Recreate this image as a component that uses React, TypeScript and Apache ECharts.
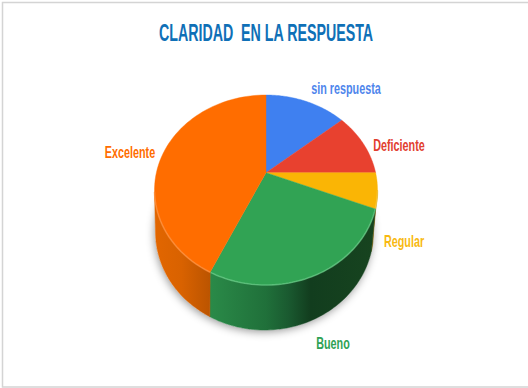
import React, { useEffect, useRef } from "react";
import * as echarts from "echarts";

const categories = ["sin respuesta", "Deficiente", "Regular", "Bueno", "Excelente"];
const shares = [14, 11, 6, 26, 43];
const faceColors = ["#3f80f0", "#e8412f", "#fab505", "#31a354", "#ff6d00"];
const labelColors = ["#4f86ec", "#e2402f", "#f8b912", "#2fa254", "#ff6d00"];
const titleText = "CLARIDAD  EN LA RESPUESTA";

// Shading of the cylinder wall per slice, left to right across the disc.
const wallStops: [number, string][][] = [
  [[0, "#2a5cab"], [1, "#2a5cab"]],
  [[0, "#a32f25"], [1, "#a32f25"]],
  [[0, "#8a6800"], [1, "#7a5c00"]],
  [[0, "#2b8a47"], [0.25, "#2a8a48"], [0.5, "#20703a"], [0.6, "#1a5a30"], [0.7, "#123d1e"], [1, "#17441f"]],
  [[0, "#e26600"], [0.12, "#d96200"], [0.25, "#bb5400"], [1, "#bb5400"]],
];
const rimColors = ["#6aa0f7", "#f0756a", "#fdd04f", "#6fd08d", "#ff9a4d"];

// Label centres, one per category.
const labelCentres = [
  [346, 88.5],
  [399, 145.5],
  [404, 242],
  [333, 343.5],
  [130, 152.5],
];

// Condensed lettering: a wide sans squeezed horizontally.
const FONT_FAMILY = '"Liberation Sans", Arial, sans-serif';
const LABEL_SQUEEZE = 0.675;
const TITLE_SQUEEZE = 0.593;

// Projected disc: the top face ellipse, the lower rim ellipse and the perspective shift of the hub.
const TOP = { cx: 266, cy: 190, rx: 111.5, ry: 95 };
const BASE = { cx: 264.5, cy: 232, rx: 109, ry: 98 };
const HUB_SHIFT = -0.182;

const total = shares.reduce((a, b) => a + b, 0);

// Maps a clockwise angle on the flat disc (0 = up) to the tilted top face.
function onFace(angle: number): [number, number] {
  const x = Math.sin(angle);
  const y = -Math.cos(angle);
  const k = HUB_SHIFT;
  const d = 1 + k * y;
  const px = (x * Math.sqrt(1 - k * k)) / d;
  const py = (y + k) / d;
  return [TOP.cx + TOP.rx * px, TOP.cy + TOP.ry * py];
}

// Same direction on the lower rim, matched through the ellipse parameter.
function onBase(p: [number, number]): [number, number] {
  const phi = Math.atan2((p[1] - TOP.cy) / TOP.ry, (p[0] - TOP.cx) / TOP.rx);
  return [BASE.cx + BASE.rx * Math.cos(phi), BASE.cy + BASE.ry * Math.sin(phi)];
}

function hub(): [number, number] {
  return [TOP.cx, TOP.cy + TOP.ry * HUB_SHIFT];
}

function renderSlice(params: any, api: any) {
  const i = params.dataIndex;
  const before = shares.slice(0, i).reduce((a, b) => a + b, 0);
  const start = (before / total) * Math.PI * 2;
  const end = start + (api.value(0) / total) * Math.PI * 2;
  const arc: [number, number][] = [];
  const steps = 64;
  for (let s = 0; s <= steps; s++) arc.push(onFace(start + ((end - start) * s) / steps));

  const front = arc.filter((p) => p[1] >= TOP.cy);
  const children: any[] = [];

  if (i === 0) {
    const ring: [number, number][] = [];
    for (let s = 0; s <= 90; s++) {
      const a = (s / 90) * Math.PI * 2;
      ring.push([BASE.cx + BASE.rx * Math.cos(a), BASE.cy + BASE.ry * Math.sin(a)]);
    }
    children.push({
      type: "polygon",
      shape: { points: ring },
      style: { fill: "#ffffff", shadowBlur: 9, shadowColor: "rgba(0,0,0,0.4)", shadowOffsetX: -1, shadowOffsetY: 2 },
    });
  }

  if (front.length > 1) {
    const bottom = front.map(onBase).reverse();
    const fill = new echarts.graphic.LinearGradient(
      TOP.cx - TOP.rx,
      0,
      TOP.cx + TOP.rx,
      0,
      wallStops[i].map(([offset, color]) => ({ offset, color })),
      true
    );
    children.push({
      type: "polygon",
      shape: { points: [...front, ...bottom] },
      style: { fill, stroke: fill, lineWidth: 0.5 },
    });
  }

  children.push({
    type: "polygon",
    shape: { points: [hub(), ...arc] },
    style: { fill: faceColors[i], stroke: faceColors[i], lineWidth: 0.4 },
  });

  if (front.length > 1) {
    children.push({
      type: "polyline",
      shape: { points: front },
      style: { fill: "none", stroke: rimColors[i], lineWidth: 1.6, opacity: 0.6 },
    });
  }

  children.push({
    type: "text",
    x: labelCentres[i][0],
    y: labelCentres[i][1],
    scaleX: LABEL_SQUEEZE,
    style: {
      text: categories[i],
      x: 0,
      y: 0,
      align: "center",
      verticalAlign: "middle",
      fill: labelColors[i],
      font: `bold 16px ${FONT_FAMILY}`,
    },
  });

  return { type: "group", children };
}

export default function App() {
  const ref = useRef<HTMLDivElement>(null);
  useEffect(() => {
    const chart = echarts.init(ref.current!, undefined, { renderer: "svg" });
    chart.setOption({
      animation: false,
      backgroundColor: "#ffffff",
      graphic: [
        {
          type: "rect",
          silent: true,
          z: -1,
          shape: { x: 2.5, y: 2.5, width: 540, height: 384.5 },
          style: { fill: "none", stroke: "#d4d4d4", lineWidth: 1.5 },
        },
        {
          type: "text",
          silent: true,
          x: 266,
          y: 32,
          scaleX: TITLE_SQUEEZE,
          style: {
            text: titleText,
            x: 0,
            y: 0,
            align: "center",
            verticalAlign: "middle",
            fill: "#0f70b7",
            font: `bold 24px ${FONT_FAMILY}`,
          },
        },
      ],
      series: [
        {
          type: "custom",
          coordinateSystem: "none",
          renderItem: renderSlice,
          data: shares.map((v, i) => ({ name: categories[i], value: [v] })),
        },
      ],
    });
    return () => chart.dispose();
  }, []);
  return <div ref={ref} style={{ position: "fixed", left: 0, top: 0, width: 528, height: 388 }} />;
}
